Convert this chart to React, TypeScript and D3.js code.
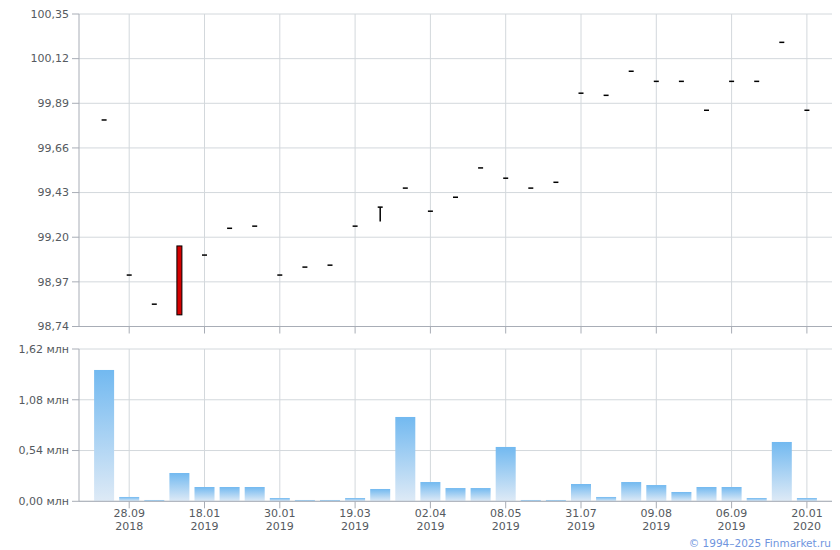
import React from "react";
import * as d3 from "d3";

// ---- data ----
const categories: string[] = Array.from({ length: 29 }, (_, i) => `c${i}`);
const openV = [99.804, 99.005, 98.855, 99.155, 99.108, 99.246, 99.257, 99.005, 99.046, 99.056, 99.257, 99.355, 99.453, 99.334, 99.406, 99.557, 99.504, 99.453, 99.483, 99.942, 99.931, 100.055, 100.003, 100.003, 99.854, 100.003, 100.003, 100.204, 99.854];
const closeV = [99.804, 99.005, 98.855, 98.80, 99.108, 99.246, 99.257, 99.005, 99.046, 99.056, 99.257, 99.355, 99.453, 99.334, 99.406, 99.557, 99.504, 99.453, 99.483, 99.942, 99.931, 100.055, 100.003, 100.003, 99.854, 100.003, 100.003, 100.204, 99.854];
const highV = [99.804, 99.005, 98.855, 99.155, 99.108, 99.246, 99.257, 99.005, 99.046, 99.056, 99.257, 99.355, 99.453, 99.334, 99.406, 99.557, 99.504, 99.453, 99.483, 99.942, 99.931, 100.055, 100.003, 100.003, 99.854, 100.003, 100.003, 100.204, 99.854];
const lowV = [99.804, 99.005, 98.855, 98.80, 99.108, 99.246, 99.257, 99.005, 99.046, 99.056, 99.257, 99.281, 99.453, 99.334, 99.406, 99.557, 99.504, 99.453, 99.483, 99.942, 99.931, 100.055, 100.003, 100.003, 99.854, 100.003, 100.003, 100.204, 99.854];
const volumes = [1.397, 0.046, 0.014, 0.301, 0.152, 0.152, 0.152, 0.035, 0.014, 0.014, 0.035, 0.131, 0.897, 0.205, 0.141, 0.141, 0.578, 0.014, 0.014, 0.184, 0.046, 0.205, 0.173, 0.099, 0.152, 0.152, 0.035, 0.631, 0.035];
const priceTicks = [98.74, 98.97, 99.2, 99.43, 99.66, 99.89, 100.12, 100.35];
const volumeTicks = [0, 0.54, 1.08, 1.62];
const tickIndex = [1, 4, 7, 10, 13, 16, 19, 22, 25, 28];
const tickDates = ["28.09", "18.01", "30.01", "19.03", "02.04", "08.05", "31.07", "09.08", "06.09", "20.01"];
const tickYears = ["2018", "2019", "2019", "2019", "2019", "2019", "2019", "2019", "2019", "2020"];

const FONT = "Verdana, 'DejaVu Sans', sans-serif";
const GRID = "#d3d8dc";
const AXIS = "#a8adb6";
const TEXT = "#555a60";

export default function App() {
  const left = 79;
  const right = 832;
  const x = d3.scalePoint<string>().domain(categories).range([left, right]).padding(1);
  const yP = d3.scaleLinear().domain([98.74, 100.35]).range([326.5, 14]);
  const yV = d3.scaleLinear().domain([0, 1.62]).range([501.3, 349]);
  const fmt = (v: number) => v.toFixed(2).replace(".", ",");
  const barW = 20;
  const bodyW = 5;

  return (
    <svg width={840} height={550} style={{ position: "absolute", left: 0, top: 0, background: "#fff" }} fontFamily={FONT}>
      <defs>
        <linearGradient id="volGrad" x1="0" y1="0" x2="0" y2="1">
          <stop offset="0%" stopColor="#72b9f0" />
          <stop offset="100%" stopColor="#deeaf6" />
        </linearGradient>
      </defs>

      {/* ---- price panel ---- */}
      {priceTicks.map((t) => (
        <g key={"pg" + t}>
          <line x1={left} x2={right} y1={yP(t)} y2={yP(t)} stroke={GRID} strokeWidth={1} />
          <line x1={left - 7} x2={left} y1={yP(t)} y2={yP(t)} stroke={AXIS} strokeWidth={1} />
          <text x={left - 10} y={yP(t)} dy="0.35em" textAnchor="end" fontSize={11} fill={TEXT}>{fmt(t)}</text>
        </g>
      ))}
      {tickIndex.map((i) => (
        <g key={"pv" + i}>
          <line x1={x(categories[i])!} x2={x(categories[i])!} y1={yP(100.35)} y2={yP(98.74)} stroke={GRID} strokeWidth={1} />
          <line x1={x(categories[i])!} x2={x(categories[i])!} y1={yP(98.74)} y2={yP(98.74) + 7} stroke={AXIS} strokeWidth={1} />
        </g>
      ))}
      <line x1={left} x2={left} y1={yP(100.35)} y2={yP(98.74)} stroke={AXIS} strokeWidth={1} />
      <line x1={left} x2={right} y1={yP(98.74)} y2={yP(98.74)} stroke={AXIS} strokeWidth={1} />

      {categories.map((c, i) => {
        const cx = x(c)!;
        const o = openV[i], cl = closeV[i], h = highV[i], l = lowV[i];
        const top = yP(Math.max(o, cl));
        const bot = yP(Math.min(o, cl));
        const isBody = bot - top > 1.5;
        return (
          <g key={"c" + i}>
            {yP(l) - yP(h) > 0.5 && (
              <line x1={cx} x2={cx} y1={yP(h)} y2={yP(l)} stroke="#000" strokeWidth={1.5} />
            )}
            {isBody ? (
              <rect x={cx - bodyW / 2} y={top} width={bodyW} height={bot - top} fill={cl < o ? "#d40000" : "#ffffff"} stroke="#000" strokeWidth={1} />
            ) : (
              <line x1={cx - 2.5} x2={cx + 2.5} y1={top} y2={top} stroke="#000" strokeWidth={1.5} />
            )}
          </g>
        );
      })}

      {/* ---- volume panel ---- */}
      {volumeTicks.map((t) => (
        <g key={"vg" + t}>
          <line x1={left} x2={right} y1={yV(t)} y2={yV(t)} stroke={GRID} strokeWidth={1} />
          <line x1={left - 7} x2={left} y1={yV(t)} y2={yV(t)} stroke={AXIS} strokeWidth={1} />
          <text x={left - 10} y={yV(t)} dy="0.35em" textAnchor="end" fontSize={11} fill={TEXT}>{fmt(t) + " млн"}</text>
        </g>
      ))}
      {tickIndex.map((i) => (
        <line key={"vv" + i} x1={x(categories[i])!} x2={x(categories[i])!} y1={yV(1.62)} y2={yV(0)} stroke={GRID} strokeWidth={1} />
      ))}
      {categories.map((c, i) => (
        <rect key={"b" + i} x={x(c)! - barW / 2} y={yV(volumes[i])} width={barW} height={yV(0) - yV(volumes[i])} fill="url(#volGrad)" />
      ))}
      <line x1={left} x2={left} y1={yV(1.62)} y2={yV(0)} stroke={AXIS} strokeWidth={1} />
      <line x1={left} x2={right} y1={yV(0)} y2={yV(0)} stroke={AXIS} strokeWidth={1} />
      {tickIndex.map((i, k) => {
        const cx = x(categories[i])!;
        return (
          <g key={"xt" + i}>
            <line x1={cx} x2={cx} y1={yV(0)} y2={yV(0) + 7} stroke={AXIS} strokeWidth={1} />
            <text x={cx} y={517} textAnchor="middle" fontSize={11} fill={TEXT}>{tickDates[k]}</text>
            <text x={cx} y={529.5} textAnchor="middle" fontSize={11} fill={TEXT}>{tickYears[k]}</text>
          </g>
        );
      })}

      <text x={831} y={547} textAnchor="end" fontSize={10.5} fill="#6f95de">© 1994–2025 Finmarket.ru</text>
    </svg>
  );
}
